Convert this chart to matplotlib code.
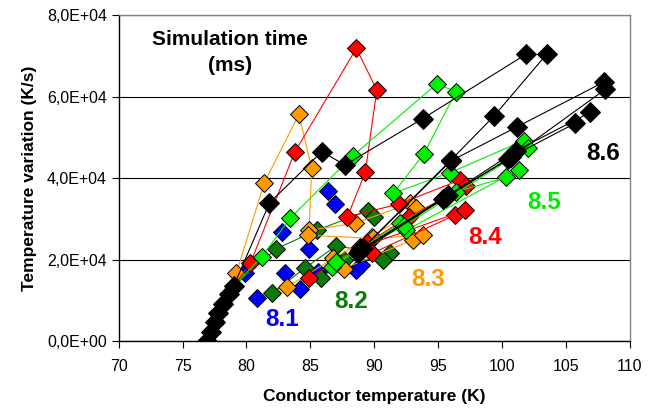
import matplotlib.pyplot as plt
from matplotlib.ticker import FuncFormatter

plt.rcParams['font.family'] = ['Liberation Sans', 'DejaVu Sans']

# common start of all curves (low temperature part)
start_x = [76.9, 77.2, 77.5, 77.8, 78.2, 78.6, 79.0]
start_y = [0, 2300, 4600, 6900, 9200, 11500, 13500]

# 8.1 ms (blue, markers only)
t81_x = [[79.9, 82.8, 86.4], [80.8, 83.0, 84.9, 86.9], [84.2, 85.6], [88.6, 89.0]]
t81_y = [[16600, 26700, 36900], [10500, 16600, 22700, 33600], [12900, 17000], [17400, 18600]]
t81_join = [True, False, False, False]

# 8.2 ms (dark green)
t82_x = [[82.3, 85.5, 89.5, 90.0], [82.0, 84.6, 87.0, 91.2], [85.8, 87.6, 90.7]]
t82_y = [[22600, 27200, 32000, 30500], [11700, 18000, 23300, 21500], [15400, 19900, 20000]]
t82_join = [True, False, False]

# 8.3 ms (orange)
t83_x = [[79.2, 81.4, 84.1, 85.1, 84.9, 88.5, 92.8], [83.2, 86.8, 89.8, 93.3], [87.6, 93.0],
         [84.8, 89.9, 93.8]]
t83_y = [[16600, 38900, 55600, 42400, 27200, 28900, 33800], [13300, 20300, 25600, 32600],
         [17800, 24800], [26000, 25200, 26000]]
t83_join = [True, False, False, False]

# 8.4 ms (red)
t84_x = [[80.3, 83.8, 88.6, 90.2, 89.3, 87.9, 91.9, 96.7], [84.9, 89.4, 92.7, 97.2],
         [89.8, 96.3], [88.9, 97.1]]
t84_y = [[19100, 46500, 71800, 61600, 41400, 30500, 33600, 39500], [15400, 24000, 30500, 38000],
         [21500, 30900], [23000, 32100]]
t84_join = [True, False, False, False]

# 8.5 ms (light green)
t85_x = [[81.2, 83.4, 88.3, 94.9, 96.4, 93.9, 91.5, 95.9, 101.7], [86.7, 92.0, 96.4, 100.3],
         [92.5, 101.3], [87.0, 92.3, 102.0]]
t85_y = [[20700, 30100, 45400, 63100, 61200, 46000, 36300, 41300, 49200], [18200, 28900, 36600, 40200],
         [27200, 42100], [19500, 28200, 47300]]
t85_join = [True, False, False, False]

# 8.6 ms (black)
t86_x = [[81.8, 85.9, 87.7, 93.8, 101.9], [89.0, 96.0, 99.4, 103.5], [88.8, 96.0, 101.2, 108.0],
         [88.9, 95.6, 100.5, 108.1], [89.1, 95.8, 101.1, 106.9], [88.7, 95.4, 100.7, 105.7]]
t86_y = [[33900, 46500, 43200, 54600, 70400], [22500, 44400, 55300, 70400], [21800, 44200, 52600, 63600],
         [22300, 35400, 44600, 61800], [22800, 35800, 46700, 56100], [21500, 34800, 45200, 53400]]
t86_join = [True, False, False, False, False, False]

groups = [
    ('8.1', t81_x, t81_y, t81_join, '#0000FF', False, 9.0),
    ('8.2', t82_x, t82_y, t82_join, '#0B7A0B', True, 9.0),
    ('8.3', t83_x, t83_y, t83_join, '#FF9900', True, 9.0),
    ('8.4', t84_x, t84_y, t84_join, '#FF0000', True, 9.0),
    ('8.5', t85_x, t85_y, t85_join, '#00EE00', True, 9.0),
    ('8.6', t86_x, t86_y, t86_join, '#000000', True, 10.5),
]

label_pos = {'8.1': (82.8, 5200), '8.2': (88.2, 9600), '8.3': (94.2, 15000),
             '8.4': (98.7, 25300), '8.5': (103.3, 33900), '8.6': (107.9, 46100)}

fig = plt.figure(figsize=(6.56, 4.11), dpi=100)
ax = fig.add_axes([0.181, 0.170, 0.779, 0.7935])

for name, xs, ys, joins, col, draw_line, ms in groups:
    for x, y, j in zip(xs, ys, joins):
        px = (start_x if j else []) + x
        py = (start_y if j else []) + y
        ax.plot(px, py, color=col, lw=0.8 if draw_line else 0,
                marker='D', ms=ms, mfc=col, mec='black', mew=0.7)
    tx, ty = label_pos[name]
    ax.text(tx, ty, name, color=col, fontsize=17.5, fontweight='bold',
            ha='center', va='center')

ax.text(78.7, 73900, 'Simulation time', fontsize=15, fontweight='bold', ha='center', va='center')
ax.text(78.7, 67500, '(ms)', fontsize=15, fontweight='bold', ha='center', va='center')

ax.set_xlim(70, 110)
ax.set_ylim(0, 80000)
ax.set_xticks(range(70, 111, 5))
ax.set_yticks(range(0, 80001, 20000))
ax.yaxis.set_major_formatter(FuncFormatter(lambda v, p: ('%.1E' % v).replace('.', ',')))
ax.tick_params(labelsize=11.5, length=5, width=0.8, color='black')
ax.tick_params(axis='x', pad=8)
ax.grid(axis='y', color='black', lw=0.8)
ax.set_axisbelow(True)

for s in ['left', 'bottom']:
    ax.spines[s].set_color('black')
    ax.spines[s].set_linewidth(1.0)
for s in ['top', 'right']:
    ax.spines[s].set_color('#808080')
    ax.spines[s].set_linewidth(1.0)

ax.set_xlabel('Conductor temperature (K)', fontsize=12.5, fontweight='bold', labelpad=11)
ax.set_ylabel('Temperature variation (K/s)', fontsize=12.5, fontweight='bold', labelpad=7)

fig.savefig('out.png', dpi=100)
